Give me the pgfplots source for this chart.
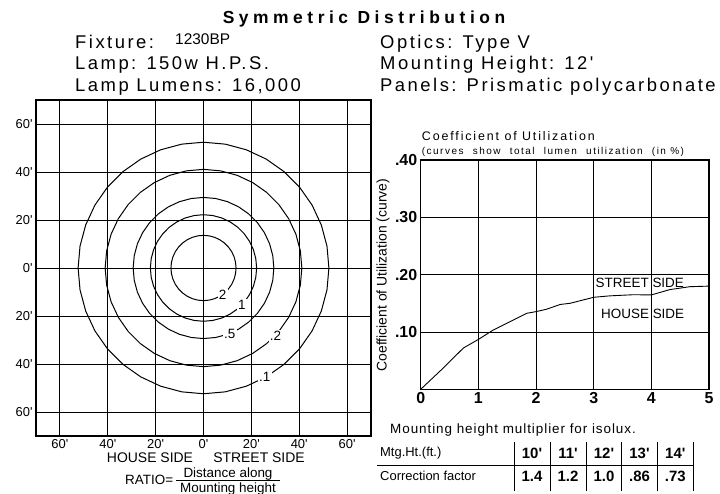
\documentclass[border=0pt]{standalone}
\usepackage{fontspec}
\setmainfont{Liberation Sans}[Ligatures=TeXOff]
\usepackage{pgfplots}
\usepackage{pgfplotstable}
\pgfplotsset{compat=1.18}
\newcommand\fs[1]{\fontsize{#1}{#1}\selectfont}
\pgfplotstableread{
x y
1 0
0.9848 0.1736
0.9397 0.3420
0.8660 0.5000
0.7660 0.6428
0.6428 0.7660
0.5000 0.8660
0.3420 0.9397
0.1736 0.9848
0 1
-0.1736 0.9848
-0.3420 0.9397
-0.5000 0.8660
-0.6428 0.7660
-0.7660 0.6428
-0.8660 0.5000
-0.9397 0.3420
-0.9848 0.1736
-1 0
-0.9848 -0.1736
-0.9397 -0.3420
-0.8660 -0.5000
-0.7660 -0.6428
-0.6428 -0.7660
-0.5000 -0.8660
-0.3420 -0.9397
-0.1736 -0.9848
0 -1
0.1736 -0.9848
0.3420 -0.9397
0.5000 -0.8660
0.6428 -0.7660
0.7660 -0.6428
0.8660 -0.5000
0.9397 -0.3420
0.9848 -0.1736
1 0
}\unitcircle
\pgfplotstableread{
x y
0 0
0.39 0.037
0.74 0.072
1.00 0.087
1.26 0.1035
1.61 0.121
1.84 0.1326
2.00 0.1355
2.18 0.1396
2.42 0.148
2.59 0.150
3.00 0.1605
3.28 0.163
3.69 0.165
4.00 0.1646
4.32 0.1739
4.67 0.179
5.00 0.180
}\cucurve
\begin{document}
\begin{tikzpicture}
\path[use as bounding box] (0,0) rectangle (720bp,494bp);
% header
\node[anchor=base, font={\fs{17.5}\bfseries\addfontfeature{LetterSpace=26}}] at (364bp,470.5bp) {Symmetric Distribution};
\begin{scope}[every node/.style={anchor=base west, inner sep=0pt, font={\fs{18.5}\addfontfeature{LetterSpace=13.5}}}]
\node at (75bp,445.7bp) {Fixture:};
\node[font=\fs{15.5}] at (175bp,449bp) {1230BP};
\node at (75bp,424bp) {Lamp: 150w H.P.S.};
\node at (75bp,402.3bp) {Lamp Lumens: 16,000};
\node at (380bp,445.7bp) {Optics: Type V};
\node at (380bp,424bp) {Mounting Height: 12'};
\node at (380bp,402.3bp) {Panels: Prismatic polycarbonate};
\end{scope}
% left isolux chart
\begin{axis}[
  at={(36bp,58bp)}, anchor=south west, scale only axis,
  width=335bp, height=336bp,
  xmin=-70, xmax=70, ymin=-70, ymax=70,
  xtick={-60,-40,-20,0,20,40,60}, ytick={-60,-40,-20,0,20,40,60},
  xticklabels={60',\raisebox{-2bp}{40'},20',0',20',40',60'},
  yticklabels={60',40',20',0',20',40',60'},
  ticklabel style={font=\fs{13}},
  major tick length=0pt,
  grid=major,
  major grid style={draw=black, line width=0.9pt},
  axis line style={line width=1.1pt},
]
\addplot[black, line width=1pt] table[x expr=13.6*\thisrow{x}, y expr=13.6*\thisrow{y}] {\unitcircle};
\addplot[black, line width=1pt] table[x expr=22.2*\thisrow{x}, y expr=22.2*\thisrow{y}] {\unitcircle};
\addplot[black, line width=1pt] table[x expr=29.4*\thisrow{x}, y expr=29.4*\thisrow{y}] {\unitcircle};
\addplot[black, line width=1pt] table[x expr=41.1*\thisrow{x}, y expr=41.1*\thisrow{y}] {\unitcircle};
\addplot[black, line width=1pt] table[x expr=52.4*\thisrow{x}, y expr=52.4*\thisrow{y}] {\unitcircle};
\begin{scope}[every node/.style={fill=white, inner sep=1.2pt, font=\fs{13.5}}]
\node at (axis cs:8.0,-11.0) {2};
\node at (axis cs:16.0,-15.4) {1};
\node at (axis cs:11.0,-27.3) {.5};
\node at (axis cs:30.1,-28.2) {.2};
\node at (axis cs:25.6,-45.4) {.1};
\end{scope}
\end{axis}
\node[font=\fs{14}] at (150bp,36bp) {HOUSE SIDE};
\node[font=\fs{14}] at (259bp,36bp) {STREET SIDE};
\node[anchor=base west, inner sep=0pt, font=\fs{13.5}] at (125bp,10bp) {RATIO=};
\node[anchor=base, inner sep=0pt, font=\fs{13.5}] at (228bp,17bp) {Distance along};
\node[anchor=base, inner sep=0pt, font=\fs{13.5}] at (228bp,2bp) {Mounting height};
\draw[line width=0.8pt] (176bp,13.5bp) -- (280bp,13.5bp);
% right CU chart
\node[anchor=base west, inner sep=0pt, font={\fs{12.5}\addfontfeature{LetterSpace=15}}] at (421.7bp,353.3bp) {Coefficient of Utilization};
\node[anchor=base west, inner sep=0pt, font={\fs{10}\addfontfeature{LetterSpace=15}}] at (421.7bp,339bp) {(curves\hspace{5bp} show\hspace{5bp} total\hspace{5bp} lumen\hspace{5bp} utilization\hspace{5bp} (in \%)};
\node[rotate=90, font=\fs{14}] at (383bp,219bp) {Coefficient of Utilization (curve)};
\begin{axis}[
  at={(420.7bp,104.7bp)}, anchor=south west, scale only axis,
  width=288.3bp, height=229.3bp,
  xmin=0, xmax=5, ymin=0, ymax=0.4,
  xtick={0,1,2,3,4,5}, xticklabels={0,1,2,3,4,5},
  ytick={0.1,0.2,0.3,0.4}, yticklabels={.10,.20,.30,.40},
  ticklabel style={font={\fs{16}\bfseries}},
  major tick length=0pt,
  grid=major,
  major grid style={draw=black, line width=0.9pt},
  axis line style={line width=1.1pt},
]
\addplot[black, line width=0.9pt] table {\cucurve};
\node[font=\fs{13.5}] at (axis cs:3.80,0.1848) {STREET SIDE};
\node[font=\fs{13.5}] at (axis cs:3.85,0.1313) {HOUSE SIDE};
\end{axis}
% isolux multiplier table
\node[anchor=base west, inner sep=0pt, font={\fs{13.5}\addfontfeature{LetterSpace=7}}] at (390bp,60bp) {Mounting height multiplier for isolux.};
\node[anchor=west, inner sep=0pt, font=\fs{13}] at (380bp,40.7bp) {Mtg.Ht.(ft.)};
\node[anchor=west, inner sep=0pt, font=\fs{13}] at (380bp,18bp) {Correction factor};
\draw[line width=0.9pt] (377bp,28.3bp) -- (693.3bp,28.3bp);
\foreach \xx in {514,550,586,621.7,657.3,693.3} {\draw[line width=0.9pt] (\xx bp,52.3bp) -- (\xx bp,3.3bp);}
\begin{scope}[every node/.style={font={\fs{15}\bfseries}}]
\node at (532bp,40.7bp) {10'};
\node at (568bp,40.7bp) {11'};
\node at (604bp,40.7bp) {12'};
\node at (639.5bp,40.7bp) {13'};
\node at (675.3bp,40.7bp) {14'};
\node at (532bp,18bp) {1.4};
\node at (568bp,18bp) {1.2};
\node at (604bp,18bp) {1.0};
\node at (639.5bp,18bp) {.86};
\node at (675.3bp,18bp) {.73};
\end{scope}
\end{tikzpicture}
\end{document}
